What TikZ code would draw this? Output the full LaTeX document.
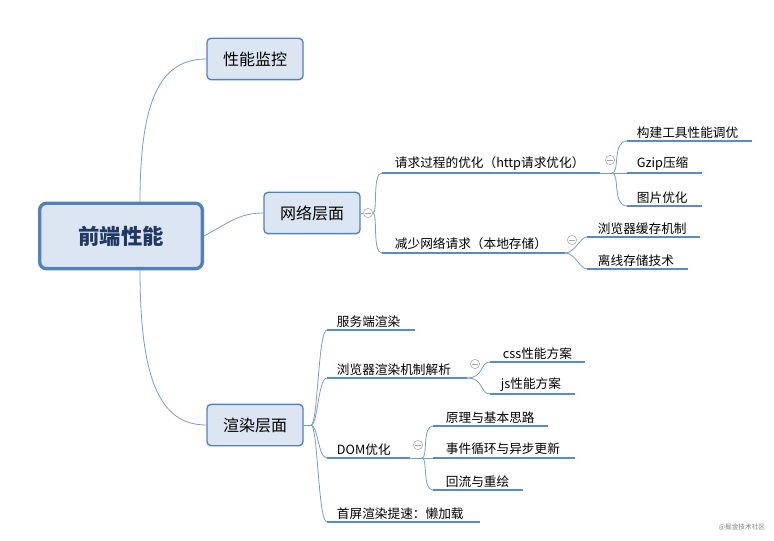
\documentclass[tikz,border=0pt]{standalone}
\usepackage{fontspec}
\setmainfont{Noto Sans CJK SC}
\usetikzlibrary{positioning}
\definecolor{linkblue}{HTML}{7A9CC6}
\definecolor{lineblue}{HTML}{5B8AC9}
\definecolor{boxfill}{HTML}{DCE6F2}
\definecolor{boxline}{HTML}{4F81BD}
\definecolor{roottext}{HTML}{1F3864}
\tikzset{
  topic/.style={draw=boxline,fill=boxfill,rounded corners=3pt,line width=1pt,
    minimum width=72pt,minimum height=31pt,font=\fontsize{12}{14}\selectfont},
  root/.style={draw=boxline,fill=boxfill,rounded corners=5pt,line width=2.5pt,
    minimum width=122pt,minimum height=49pt,text=roottext,
    font=\fontsize{16}{18}\selectfont\bfseries},
  leaf/.style={anchor=south west,inner sep=2pt,font=\fontsize{9.5}{11}\selectfont},
  uline/.style={lineblue,line width=2pt},
  link/.style={linkblue,line width=0.6pt},
  fold/.style={draw=gray!70,circle,inner sep=0pt,minimum size=7pt,fill=white,
    path picture={\draw[gray!70,line width=0.5pt]
      ([xshift=-2pt]path picture bounding box.center) -- ++(4pt,0);}}
}
\newcommand{\branch}[4]{% name, x, y, length
  \coordinate (#1) at (#2,#3);
  \draw[uline] (#1) -- ++(#4,0) coordinate (#1e);}
\begin{document}
\begin{tikzpicture}[x=0.75pt,y=-0.75pt]
\useasboundingbox (0,0) rectangle (774,541);
% main topics
\node[root] (fe) at (121,236) {前端性能};
\node[topic] (mon) at (255,59) {性能监控};
\node[topic] (net) at (312,213) {网络层面};
\node[topic] (ren) at (255,425) {渲染层面};
\draw[link] (140,202) .. controls (140,100) and (160,59) .. (mon.west);
\draw[link] (fe.east) .. controls (230,222) and (240,213) .. (net.west);
\draw[link] (140,270) .. controls (140,380) and (160,425) .. (ren.west);

% network branches
\node[fold] (fnet) at (368,213) {};
\draw[link] (net.east) -- (fnet);
\branch{req}{382}{173}{218}
\branch{loc}{382}{253}{183}
\draw[link] (fnet) .. controls (378,213) and (372,173) .. (req);
\draw[link] (fnet) .. controls (378,213) and (372,253) .. (loc);
\node[leaf] at (392,173) {请求过程的优化（http请求优化）};
\node[leaf] at (392,253) {减少网络请求（本地存储）};

\node[fold] (freq) at (610,160) {};
\branch{bld}{627}{141}{125}
\branch{gz}{627}{173}{75}
\branch{img}{627}{206}{75}
\draw[link] (reqe) -- (gz);
\draw[link] (612,173) .. controls (620,173) and (612,141) .. (bld);
\draw[link] (612,173) .. controls (620,173) and (612,206) .. (img);
\node[leaf] at (634,141) {构建工具性能调优};
\node[leaf] at (634,173) {Gzip压缩};
\node[leaf] at (634,206) {图片优化};

\node[fold] (floc) at (572,240) {};
\branch{cache}{587}{237}{113}
\branch{off}{587}{269}{101}
\draw[link] (loce) .. controls (575,253) and (580,237) .. (cache);
\draw[link] (loce) .. controls (575,253) and (580,269) .. (off);
\node[leaf] at (595,237) {浏览器缓存机制};
\node[leaf] at (595,269) {离线存储技术};

% render branches
\coordinate (spine) at (311,425);
\coordinate (bend) at (318,425);
\draw[link] (ren.east) -- (spine);
\branch{ssr}{327}{330}{88}
\branch{brw}{327}{378}{140}
\branch{dom}{327}{458}{83}
\branch{lazy}{327}{522}{153}
\foreach \b in {ssr,brw,dom,lazy}
  \draw[link] (spine) .. controls (bend) and (bend |- \b) .. (\b);
\node[leaf] at (334,330) {服务端渲染};
\node[leaf] at (334,378) {浏览器渲染机制解析};
\node[leaf] at (334,458) {DOM优化};
\node[leaf] at (334,522) {首屏渲染提速：懒加载};

\node[fold] (fbrw) at (475,364) {};
\branch{css}{490}{362}{95}
\branch{js}{490}{394}{85}
\draw[link] (brwe) .. controls (484,378) and (480,362) .. (css);
\draw[link] (brwe) .. controls (484,378) and (480,394) .. (js);
\node[leaf] at (500,362) {css性能方案};
\node[leaf] at (498,394) {js性能方案};

\node[fold] (fdom) at (418,445) {};
\branch{idea}{433}{426}{115}
\branch{loop}{433}{458}{142}
\branch{flow}{433}{490}{90}
\draw[link] (dome) -- (loop);
\draw[link] (422,458) .. controls (428,458) and (422,426) .. (idea);
\draw[link] (422,458) .. controls (428,458) and (422,490) .. (flow);
\node[leaf] at (443,426) {原理与基本思路};
\node[leaf] at (443,458) {事件循环与异步更新};
\node[leaf] at (443,490) {回流与重绘};

\node[gray,font=\fontsize{5}{6}\selectfont] (mark) at (742,527) {@掘金技术社区};
\end{tikzpicture}
\end{document}
